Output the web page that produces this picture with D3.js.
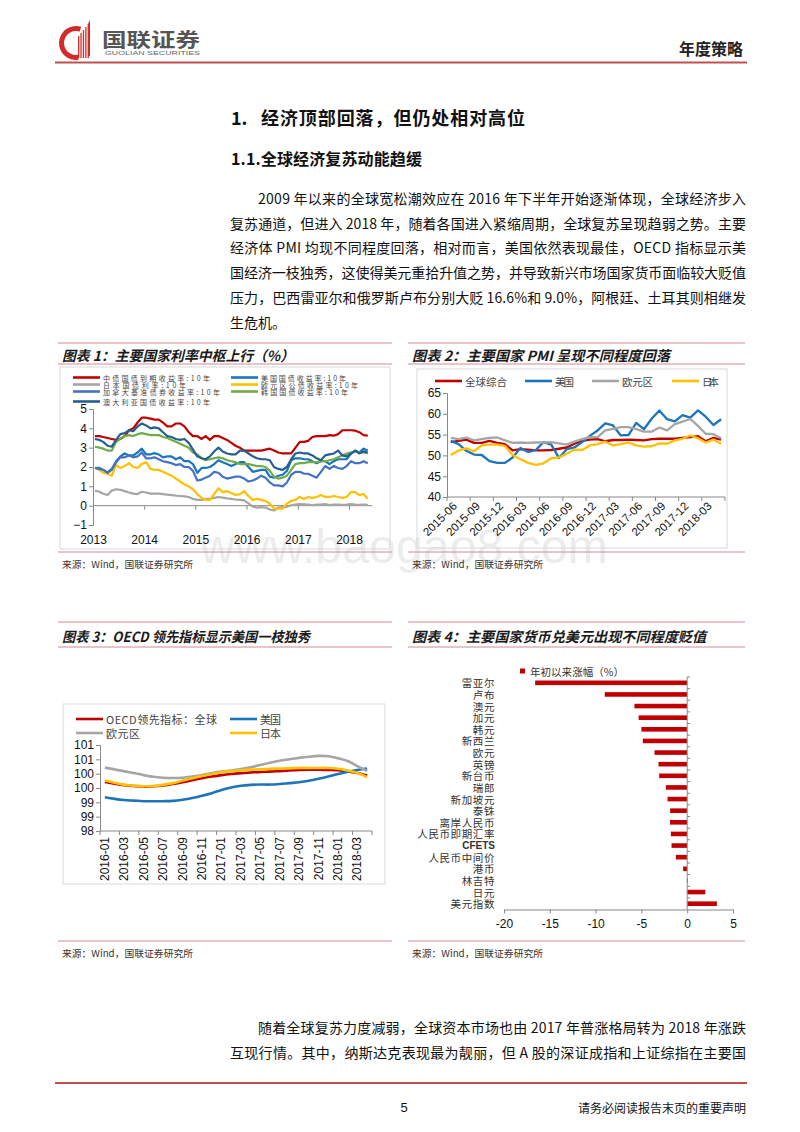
<!DOCTYPE html>
<html>
<head>
<meta charset="utf-8">
<script src="https://cdnjs.cloudflare.com/ajax/libs/d3/7.8.5/d3.min.js"></script>
<style>
  html, body { margin: 0; padding: 0; background: #fff; }
  svg { display: block; }
</style>
</head>
<body>
<div id="page"></div>
<script>
// ===== 图表1：主要国家利率中枢上行（%） 月度 2013-01 ~ 2018-05 =====
var rateMonths = d3.timeMonth.range(new Date(2013, 0, 1), new Date(2018, 5, 1));
var cn10 = [3.60,3.60,3.55,3.50,3.45,3.40,3.45,3.60,3.90,4.00,4.30,4.55,
            4.55,4.50,4.45,4.45,4.30,4.10,4.10,4.25,4.25,4.10,3.80,3.60,
            3.60,3.45,3.60,3.40,3.60,3.60,3.50,3.40,3.25,3.10,3.00,2.85,
            2.85,2.85,2.85,2.85,2.90,2.95,2.85,2.75,2.70,2.70,2.70,3.00,
            3.30,3.30,3.35,3.55,3.60,3.60,3.60,3.65,3.62,3.70,3.90,3.90,
            3.90,3.88,3.80,3.65,3.62];
var us10 = [1.95,1.95,1.85,1.72,1.90,2.30,2.55,2.70,2.60,2.60,2.75,2.95,
            2.65,2.65,2.72,2.65,2.50,2.55,2.55,2.40,2.50,2.30,2.30,2.15,
            1.70,1.95,1.95,2.00,2.15,2.35,2.25,2.15,2.05,2.15,2.25,2.25,
            2.00,1.75,1.80,1.85,1.85,1.50,1.45,1.55,1.60,1.80,2.35,2.45,
            2.45,2.40,2.40,2.30,2.20,2.30,2.30,2.15,2.30,2.40,2.40,2.40,
            2.70,2.85,2.75,2.95,2.85];
var jp10 = [0.78,0.72,0.62,0.55,0.78,0.85,0.82,0.75,0.68,0.62,0.60,0.72,
            0.68,0.62,0.62,0.62,0.60,0.57,0.55,0.52,0.50,0.48,0.45,0.35,
            0.30,0.30,0.35,0.35,0.40,0.45,0.42,0.38,0.35,0.32,0.30,0.27,
            0.12,-0.05,-0.10,-0.08,-0.10,-0.20,-0.25,-0.10,-0.08,-0.06,0.02,0.05,
            0.08,0.07,0.06,0.02,0.05,0.06,0.08,0.03,0.05,0.06,0.04,0.05,
            0.08,0.05,0.04,0.05,0.04];
var eu10 = [1.95,1.85,1.70,1.65,1.55,2.10,1.95,2.05,2.20,2.00,1.95,2.15,
            2.25,1.90,1.85,1.85,1.75,1.65,1.55,1.40,1.25,1.10,1.00,0.85,
            0.60,0.40,0.30,0.30,0.60,0.90,0.70,0.75,0.65,0.55,0.60,0.75,
            0.50,0.30,0.35,0.30,0.25,0.10,-0.15,-0.15,-0.15,0.10,0.25,0.30,
            0.45,0.35,0.45,0.40,0.45,0.55,0.45,0.45,0.50,0.45,0.40,0.45,
            0.70,0.70,0.55,0.60,0.35];
var ca10 = [1.95,1.90,1.85,1.70,1.85,2.25,2.50,2.50,2.60,2.50,2.55,2.75,
            2.45,2.45,2.50,2.40,2.30,2.25,2.20,2.10,2.15,2.00,2.00,1.80,
            1.30,1.35,1.45,1.55,1.75,1.70,1.50,1.40,1.45,1.50,1.50,1.40,
            1.25,1.30,1.40,1.55,1.45,1.20,1.05,1.05,1.00,1.20,1.60,1.75,
            1.75,1.65,1.65,1.55,1.45,1.75,2.05,1.90,2.05,1.95,1.90,2.05,
            2.30,2.20,2.20,2.30,2.20];
var kr10 = [3.05,3.00,2.95,2.85,2.85,3.30,3.45,3.60,3.65,3.60,3.70,3.75,
            3.70,3.65,3.65,3.65,3.55,3.50,3.40,3.30,3.20,3.10,3.00,2.75,
            2.65,2.45,2.35,2.40,2.45,2.50,2.45,2.35,2.30,2.25,2.15,2.15,
            2.15,2.10,2.05,2.05,2.00,1.80,1.50,1.40,1.45,1.55,1.85,2.15,
            2.20,2.20,2.25,2.25,2.25,2.30,2.30,2.35,2.40,2.50,2.60,2.70,
            2.75,2.80,2.75,2.75,2.70];
var au10 = [3.45,3.40,3.30,3.10,3.05,3.40,3.70,3.75,3.90,3.85,4.10,4.25,
            4.15,4.00,4.05,4.00,3.80,3.60,3.55,3.45,3.40,3.45,3.25,2.90,
            2.55,2.45,2.40,2.55,2.80,3.00,2.80,2.70,2.65,2.65,2.85,2.85,
            2.70,2.55,2.45,2.40,2.40,2.35,2.00,1.90,1.85,2.00,2.40,2.70,
            2.75,2.70,2.70,2.60,2.45,2.35,2.60,2.65,2.70,2.85,2.60,2.55,
            2.70,2.85,2.70,2.80,2.75];
var rateNames = ["中债国债到期收益率:10年", "美国国债收益率:10年", "日本国债利率:10年",
                 "欧元区公债收益率:10年", "加拿大基准债券收益率:10年", "韩国国债收益率:10年",
                 "澳大利亚国债收益率:10年"];
var rateYears = [2013, 2014, 2015, 2016, 2017, 2018];
var rateTicks = [-1, 0, 1, 2, 3, 4, 5];

// ===== 图表2：主要国家PMI 月度 2015-06 ~ 2018-05 =====
var pmiMonths = d3.timeMonth.range(new Date(2015, 5, 1), new Date(2018, 5, 1)).map(d3.timeFormat("%Y-%m"));
var pmiGlobal = [53.2,53.5,53.8,53.0,53.0,53.5,53.0,52.7,51.2,51.5,51.4,51.2,
                 51.2,51.3,51.6,51.9,52.8,53.5,53.8,53.9,53.4,53.7,53.7,53.8,
                 53.7,53.6,53.9,54.0,54.0,54.0,54.2,54.4,54.6,53.4,54.2,53.8];
var pmiUS = [53.5,52.7,51.1,50.2,50.1,48.6,48.2,48.2,49.5,51.8,50.8,51.3,
             53.2,52.6,49.4,51.5,51.9,53.2,54.7,56.0,57.7,57.2,54.8,54.9,
             57.8,56.3,58.8,60.8,58.7,58.2,59.7,59.1,60.8,59.3,57.3,58.7];
var pmiEU = [54.2,53.9,54.3,53.6,53.9,54.2,54.3,53.6,53.0,53.1,53.0,53.1,
             53.1,53.2,52.9,52.6,53.3,53.9,54.4,54.4,56.0,56.4,56.8,56.8,
             56.3,55.7,55.7,56.7,56.0,57.5,58.1,58.8,57.1,55.2,55.1,54.1];
var pmiJP = [50.1,51.2,51.7,51.0,52.4,52.6,52.6,52.3,50.1,49.1,48.2,47.7,
             48.1,49.3,49.5,50.4,51.4,51.3,52.4,52.7,53.3,52.4,52.7,53.1,
             52.4,52.1,52.2,52.9,52.8,53.6,54.0,54.8,54.1,53.1,53.8,52.8];
var pmiNames = ["全球综合", "美国", "欧元区", "日本"];
var pmiTicks = [40, 45, 50, 55, 60, 65];

// ===== 图表3：OECD领先指标 月度 2016-01 ~ 2018-04 =====
var oecdMonths = d3.timeMonth.range(new Date(2016, 0, 1), new Date(2018, 4, 1)).map(d3.timeFormat("%Y-%m"));
var oecdGlobal = [99.71,99.65,99.60,99.57,99.55,99.56,99.59,99.64,99.70,99.77,
                  99.84,99.90,99.95,99.99,100.02,100.04,100.06,100.07,100.09,100.11,
                  100.13,100.14,100.14,100.13,100.12,100.08,100.02,99.94];
var oecdUS = [99.18,99.12,99.08,99.06,99.04,99.04,99.04,99.05,99.09,99.15,
              99.23,99.32,99.43,99.52,99.58,99.61,99.62,99.62,99.64,99.67,
              99.70,99.75,99.82,99.90,99.99,100.07,100.13,100.18];
var oecdEU = [100.21,100.15,100.08,100.02,99.95,99.89,99.86,99.85,99.86,99.90,
              99.95,100.02,100.07,100.11,100.16,100.22,100.30,100.38,100.45,100.50,
              100.55,100.59,100.62,100.61,100.54,100.44,100.26,100.09];
var oecdJP = [99.76,99.68,99.61,99.58,99.56,99.57,99.61,99.67,99.76,99.84,
              99.92,99.99,100.05,100.09,100.12,100.14,100.15,100.17,100.18,100.19,
              100.20,100.20,100.20,100.20,100.17,100.11,100.02,99.88];
var oecdNames = ["OECD领先指标：全球", "美国", "欧元区", "日本"];
var oecdTicks = [98, 98.5, 99, 99.5, 100, 100.5, 101];

// ===== 图表4：主要国家货币兑美元 年初以来涨幅（%） =====
var fxNames = ["雷亚尔", "卢布", "澳元", "加元", "韩元", "新西兰", "欧元", "英镑", "新台币", "瑞郎",
               "新加坡元", "泰铢", "离岸人民币", "人民币即期汇率", "CFETS", "人民币中间价", "港币",
               "林吉特", "日元", "美元指数"];
var fxChange = [-16.6, -9.0, -5.76, -5.3, -5.0, -4.85, -3.57, -3.13, -3.06, -2.33,
                -2.15, -1.86, -1.88, -1.78, -1.71, -1.24, -0.44, 0.08, 1.97, 3.24];
var fxTicks = [-20, -15, -10, -5, 0, 5];

// ===== 正文 =====
var para1 = ["2009 年以来的全球宽松潮效应在 2016 年下半年开始逐渐体现，全球经济步入",
             "复苏通道，但进入 2018 年，随着各国进入紧缩周期，全球复苏呈现趋弱之势。主要",
             "经济体 PMI 均现不同程度回落，相对而言，美国依然表现最佳，OECD 指标显示美",
             "国经济一枝独秀，这使得美元重拾升值之势，并导致新兴市场国家货币面临较大贬值",
             "压力，巴西雷亚尔和俄罗斯卢布分别大贬 16.6%和 9.0%，阿根廷、土耳其则相继发",
             "生危机。"];
var para2 = ["随着全球复苏力度减弱，全球资本市场也由 2017 年普涨格局转为 2018 年涨跌",
             "互现行情。其中，纳斯达克表现最为靓丽，但 A 股的深证成指和上证综指在主要国"];

var CJK = "'Noto Sans CJK SC', 'Noto Sans', sans-serif";
var ARIAL = "'Liberation Sans', Arial, sans-serif";
var RED = "#c00000", BLUE = "#1c75bc", GRAY = "#a5a5a5", YELLOW = "#ffc000";
var RULE = "#cf8a90";

var svg = d3.select("#page").append("svg")
  .attr("width", 800).attr("height", 1132)
  .style("font-family", CJK);

// 水印
svg.append("text")
  .attr("x", 200).attr("y", 563)
  .attr("textLength", 408).attr("lengthAdjust", "spacingAndGlyphs")
  .style("font-family", ARIAL).style("font-size", "48px")
  .attr("fill", "#ececec")
  .text("www.baogao8.com");

// ---- 页眉 ----
var logo = svg.append("g");
logo.append("path")
  .attr("transform", "translate(76,43)")
  .attr("d", d3.arc()({ innerRadius: 12, outerRadius: 17, startAngle: Math.PI * 0.95, endAngle: Math.PI * 2.1 }))
  .attr("fill", "#d42a2a");
[0, 1, 2, 3, 4].forEach(function (k) {
  logo.append("rect")
    .attr("x", 78 + k * 2.4).attr("y", 36 - k * 3)
    .attr("width", 1.3).attr("height", 22 + k * 3)
    .attr("fill", "#d42a2a");
});
logo.append("path").attr("d", "M88,24 L90,20 L90,56 L88,56 Z").attr("fill", "#d42a2a");
logo.append("text")
  .attr("x", 102).attr("y", 38).attr("dominant-baseline", "central")
  .attr("textLength", 98).attr("lengthAdjust", "spacingAndGlyphs")
  .style("font-size", "19px").style("font-weight", "bold").attr("fill", "#555")
  .text("国联证券");
logo.append("text")
  .attr("x", 105).attr("y", 53).attr("dominant-baseline", "central")
  .attr("textLength", 95).attr("lengthAdjust", "spacingAndGlyphs")
  .style("font-family", ARIAL).style("font-size", "5.5px").attr("fill", "#666")
  .text("GUOLIAN SECURITIES");

svg.append("text")
  .attr("x", 743).attr("y", 48).attr("text-anchor", "end").attr("dominant-baseline", "central")
  .style("font-size", "16px").style("font-weight", "bold").attr("fill", "#222")
  .text("年度策略");
svg.append("line").attr("x1", 55).attr("x2", 747).attr("y1", 62.5).attr("y2", 62.5)
  .attr("stroke", "#c0504d").attr("stroke-width", 1.8);

// ---- 标题 ----
svg.append("text").attr("x", 231).attr("y", 117).attr("dominant-baseline", "central")
  .style("font-size", "18px").style("font-weight", "bold").attr("fill", "#111").text("1.");
svg.append("text").attr("x", 261).attr("y", 117).attr("dominant-baseline", "central")
  .attr("textLength", 264).attr("lengthAdjust", "spacing")
  .style("font-size", "18px").style("font-weight", "bold").attr("fill", "#111")
  .text("经济顶部回落，但仍处相对高位");
svg.append("text").attr("x", 231).attr("y", 158).attr("dominant-baseline", "central")
  .attr("textLength", 191).attr("lengthAdjust", "spacing")
  .style("font-size", "16px").style("font-weight", "bold").attr("fill", "#111")
  .text("1.1.全球经济复苏动能趋缓");

function paragraph(lines, y0, justifyLast) {
  lines.forEach(function (line, i) {
    var x = i === 0 ? 258 : 230;
    var t = svg.append("text")
      .attr("x", x).attr("y", y0 + i * 24.7).attr("dominant-baseline", "central")
      .style("font-size", "14px").attr("fill", "#111")
      .text(line);
    if (i < lines.length - 1 || justifyLast) {
      t.attr("textLength", 746 - x).attr("lengthAdjust", "spacing");
    }
  });
}
paragraph(para1, 198, false);
paragraph(para2, 1027, true);

// ---- 页脚 ----
svg.append("line").attr("x1", 55).attr("x2", 747).attr("y1", 1083).attr("y2", 1083)
  .attr("stroke", "#c0504d").attr("stroke-width", 2);
svg.append("text").attr("x", 404).attr("y", 1107).attr("text-anchor", "middle").attr("dominant-baseline", "central")
  .style("font-family", ARIAL).style("font-size", "13px").attr("fill", "#111").text("5");
svg.append("text").attr("x", 746).attr("y", 1107).attr("text-anchor", "end").attr("dominant-baseline", "central")
  .style("font-size", "12px").attr("fill", "#111").text("请务必阅读报告末页的重要声明");

// ---- 图表框 ----
function block(x0, x1, yTop, yRule, yBottom, title, titleLen) {
  [yTop, yRule, yBottom].forEach(function (y) {
    svg.append("line").attr("x1", x0).attr("x2", x1).attr("y1", y).attr("y2", y)
      .attr("stroke", RULE).attr("stroke-width", 1);
  });
  svg.append("text").attr("x", x0 + 4).attr("y", (yTop + yRule) / 2 + 1).attr("dominant-baseline", "central")
    .attr("textLength", titleLen).attr("lengthAdjust", "spacingAndGlyphs")
    .style("font-size", "14px").style("font-weight", "bold").style("font-style", "italic").attr("fill", "#1a1a1a")
    .text(title);
  svg.append("text").attr("x", x0 + 4).attr("y", yBottom + 12).attr("dominant-baseline", "central")
    .attr("textLength", 131).attr("lengthAdjust", "spacingAndGlyphs")
    .style("font-size", "9.5px").attr("fill", "#333")
    .text("来源：Wind，国联证券研究所");
}
block(58, 392, 343, 364, 552, "图表 1：主要国家利率中枢上行（%）", 232);
block(408, 745, 343, 364, 552, "图表 2：主要国家 PMI 呈现不同程度回落", 258);
block(58, 392, 622, 647, 941, "图表 3：OECD 领先指标显示美国一枝独秀", 248);
block(408, 745, 622, 647, 941, "图表 4：主要国家货币兑美元出现不同程度贬值", 294);

function frame(x0, y0, x1, y1) {
  svg.append("rect").attr("x", x0).attr("y", y0).attr("width", x1 - x0).attr("height", y1 - y0)
    .attr("fill", "none").attr("stroke", "#d9d9d9").attr("stroke-width", 1);
}
frame(60, 367, 390, 549);
frame(417, 369, 727, 548);
frame(63, 704, 385, 884);

function legendItem(g, x, y, color, label, len, size) {
  g.append("line").attr("x1", x).attr("x2", x + 27).attr("y1", y).attr("y2", y)
    .attr("stroke", color).attr("stroke-width", 2.6);
  var t = g.append("text").attr("x", x + 30).attr("y", y).attr("dominant-baseline", "central")
    .style("font-size", size + "px").attr("fill", "#444").text(label);
  if (len) t.attr("textLength", len).attr("lengthAdjust", "spacing");
}

// ================= 图表1 =================
(function () {
  var g = svg.append("g");
  var x = d3.scaleTime().domain([new Date(2013, 0, 1), new Date(2018, 0, 1)]).range([93, 349]);
  var y = d3.scaleLinear().domain([-1, 5]).range([525, 409]);
  var series = [cn10, us10, jp10, eu10, ca10, kr10, au10];
  var colors = [RED, BLUE, GRAY, YELLOW, "#4472c4", "#70ad47", "#255e91"];

  g.append("g").attr("transform", "translate(93,0)")
    .call(d3.axisLeft(y).tickValues(rateTicks).tickSize(4).tickFormat(d3.format("d")))
    .call(function (a) {
      a.select(".domain").attr("stroke", "#888");
      a.selectAll(".tick line").attr("stroke", "#888");
      a.selectAll("text").style("font-family", ARIAL).style("font-size", "12px").attr("fill", "#111").attr("x", -6);
    });
  g.append("g").attr("transform", "translate(0," + y(0) + ")")
    .call(d3.axisBottom(x).tickValues(rateYears.map(function (yr) { return new Date(yr, 0, 1); }))
      .tickSize(4).tickSizeOuter(0).tickFormat(d3.timeFormat("%Y")))
    .call(function (a) {
      a.select(".domain").attr("d", "M93,0H372").attr("stroke", "#888");
      a.selectAll(".tick line").attr("stroke", "#888");
      a.selectAll("text").style("font-family", ARIAL).style("font-size", "12px").attr("fill", "#111")
        .attr("y", y(-1) - y(0) + 15).attr("dy", "0.35em");
    });

  var line = d3.line()
    .x(function (d, i) { return x(d3.timeDay.offset(rateMonths[i], 14)); })
    .y(function (d) { return y(d); });
  series.forEach(function (s, k) {
    g.append("path").datum(s).attr("d", line).attr("fill", "none")
      .attr("stroke", colors[k]).attr("stroke-width", 2.2).attr("stroke-linejoin", "round");
  });

  var lg = g.append("g");
  var lens = [107, 85, 83, 97, 117, 87, 107];
  var pos = [[73, 377.5], [231, 377.5], [73, 384.5], [231, 384.5], [73, 391.5], [231, 391.5], [73, 401.5]];
  series.forEach(function (s, k) {
    legendItem(lg, pos[k][0], pos[k][1], colors[k], rateNames[k], lens[k], 7);
  });
})();

// ================= 图表2 =================
(function () {
  var g = svg.append("g");
  var x = d3.scaleBand().domain(pmiMonths).range([447, 725]);
  var y = d3.scaleLinear().domain([40, 65]).range([497, 393]);
  var series = [pmiGlobal, pmiUS, pmiEU, pmiJP];
  var colors = [RED, BLUE, GRAY, YELLOW];

  g.append("g").attr("transform", "translate(447,0)")
    .call(d3.axisLeft(y).tickValues(pmiTicks).tickSize(4))
    .call(function (a) {
      a.select(".domain").attr("stroke", "#888");
      a.selectAll(".tick line").attr("stroke", "#888");
      a.selectAll("text").style("font-family", ARIAL).style("font-size", "12px").attr("fill", "#111").attr("x", -6);
    });
  g.append("line").attr("x1", 447).attr("x2", 725).attr("y1", 497).attr("y2", 497).attr("stroke", "#888");
  pmiMonths.forEach(function (m, i) {
    if (i % 3 === 0) {
      g.append("line").attr("x1", x(m)).attr("x2", x(m)).attr("y1", 497).attr("y2", 501).attr("stroke", "#888");
      g.append("text")
        .attr("transform", "translate(" + (x(m) + x.bandwidth() / 2 + 4) + ",504) rotate(-45)")
        .attr("text-anchor", "end").attr("dominant-baseline", "central")
        .style("font-family", ARIAL).style("font-size", "11.5px").attr("fill", "#111")
        .text(m);
    }
  });
  g.append("line").attr("x1", 725).attr("x2", 725).attr("y1", 497).attr("y2", 501).attr("stroke", "#888");

  var line = d3.line()
    .x(function (d, i) { return x(pmiMonths[i]) + x.bandwidth() / 2; })
    .y(function (d) { return y(d); });
  series.forEach(function (s, k) {
    g.append("path").datum(s).attr("d", line).attr("fill", "none")
      .attr("stroke", colors[k]).attr("stroke-width", 2.3).attr("stroke-linejoin", "round");
  });

  var lx = [435, 525, 592, 672];
  var lens = [42, 19, 31, 17];
  series.forEach(function (s, k) {
    legendItem(g, lx[k], 381, colors[k], pmiNames[k], lens[k], 10.5);
  });
})();

// ================= 图表3 =================
(function () {
  var g = svg.append("g");
  var x = d3.scaleBand().domain(oecdMonths).range([100, 372]);
  var y = d3.scaleLinear().domain([98, 101]).range([831, 745]);
  var series = [oecdGlobal, oecdUS, oecdEU, oecdJP];
  var colors = [RED, BLUE, GRAY, YELLOW];

  g.append("g").attr("transform", "translate(100,0)")
    .call(d3.axisLeft(y).tickValues(oecdTicks).tickSize(4).tickFormat(function (v) { return Math.round(v); }))
    .call(function (a) {
      a.select(".domain").attr("stroke", "#888");
      a.selectAll(".tick line").attr("stroke", "#888");
      a.selectAll("text").style("font-family", ARIAL).style("font-size", "12px").attr("fill", "#111").attr("x", -6);
    });
  g.append("line").attr("x1", 100).attr("x2", 372).attr("y1", 831).attr("y2", 831).attr("stroke", "#888");
  oecdMonths.forEach(function (m, i) {
    if (i % 2 === 0) {
      g.append("line").attr("x1", x(m)).attr("x2", x(m)).attr("y1", 831).attr("y2", 835).attr("stroke", "#888");
      g.append("text")
        .attr("transform", "translate(" + (x(m) + x.bandwidth() / 2) + ",837) rotate(-90)")
        .attr("text-anchor", "end").attr("dominant-baseline", "central")
        .style("font-family", ARIAL).style("font-size", "12px").attr("fill", "#111")
        .text(m);
    }
  });
  g.append("line").attr("x1", 372).attr("x2", 372).attr("y1", 831).attr("y2", 835).attr("stroke", "#888");

  var line = d3.line()
    .curve(d3.curveCatmullRom)
    .x(function (d, i) { return x(oecdMonths[i]) + x.bandwidth() / 2; })
    .y(function (d) { return y(d); });
  series.forEach(function (s, k) {
    g.append("path").datum(s).attr("d", line).attr("fill", "none")
      .attr("stroke", colors[k]).attr("stroke-width", 2.6).attr("stroke-linejoin", "round");
  });

  legendItem(g, 76, 719, colors[0], oecdNames[0], 111, 11);
  legendItem(g, 230, 719, colors[1], oecdNames[1], 21, 11);
  legendItem(g, 76, 733, colors[2], oecdNames[2], 34, 11);
  legendItem(g, 230, 733, colors[3], oecdNames[3], 21, 11);
})();

// ================= 图表4 =================
(function () {
  var g = svg.append("g");
  var x = d3.scaleLinear().domain([-20, 5]).range([504, 733]);
  var y = d3.scaleBand().domain(fxNames).range([677, 909.5]);
  var bh = 4.6;

  g.selectAll(".bar").data(fxChange).enter().append("rect")
    .attr("x", function (d) { return x(Math.min(0, d)); })
    .attr("y", function (d, i) { return y(fxNames[i]) + y.bandwidth() / 2 - bh / 2; })
    .attr("width", function (d) { return Math.abs(x(d) - x(0)); })
    .attr("height", bh)
    .attr("fill", RED);

  g.append("line").attr("x1", x(0)).attr("x2", x(0)).attr("y1", 677).attr("y2", 909.5).attr("stroke", "#888");
  fxNames.forEach(function (n) {
    g.append("line").attr("x1", x(0)).attr("x2", x(0) + 3).attr("y1", y(n)).attr("y2", y(n)).attr("stroke", "#888");
    g.append("text").attr("x", 495).attr("y", y(n) + y.bandwidth() / 2).attr("text-anchor", "end")
      .attr("dominant-baseline", "central")
      .style("font-family", n === "CFETS" ? ARIAL : CJK)
      .style("font-size", n === "CFETS" ? "10px" : "10.5px")
      .style("font-weight", n === "CFETS" ? "bold" : "normal")
      .style("letter-spacing", n === "CFETS" ? "0px" : "0.6px")
      .attr("fill", "#333").text(n);
  });

  g.append("g").attr("transform", "translate(0,909.5)")
    .call(d3.axisBottom(x).tickValues(fxTicks).tickSize(4).tickSizeOuter(0))
    .call(function (a) {
      a.select(".domain").attr("stroke", "#888");
      a.selectAll(".tick line").attr("stroke", "#888");
      a.selectAll("text").style("font-family", ARIAL).style("font-size", "12px").attr("fill", "#111")
        .attr("y", 14).attr("dy", "0.35em")
        .text(function (d) { return d < 0 ? "-" + Math.abs(d) : d; });
    });

  g.append("rect").attr("x", 520).attr("y", 668.5).attr("width", 5).attr("height", 5).attr("fill", RED);
  g.append("text").attr("x", 530).attr("y", 671).attr("dominant-baseline", "central")
    .attr("textLength", 94).attr("lengthAdjust", "spacing")
    .style("font-size", "10.5px").attr("fill", "#333").text("年初以来涨幅（%）");
})();
</script>
</body>
</html>
